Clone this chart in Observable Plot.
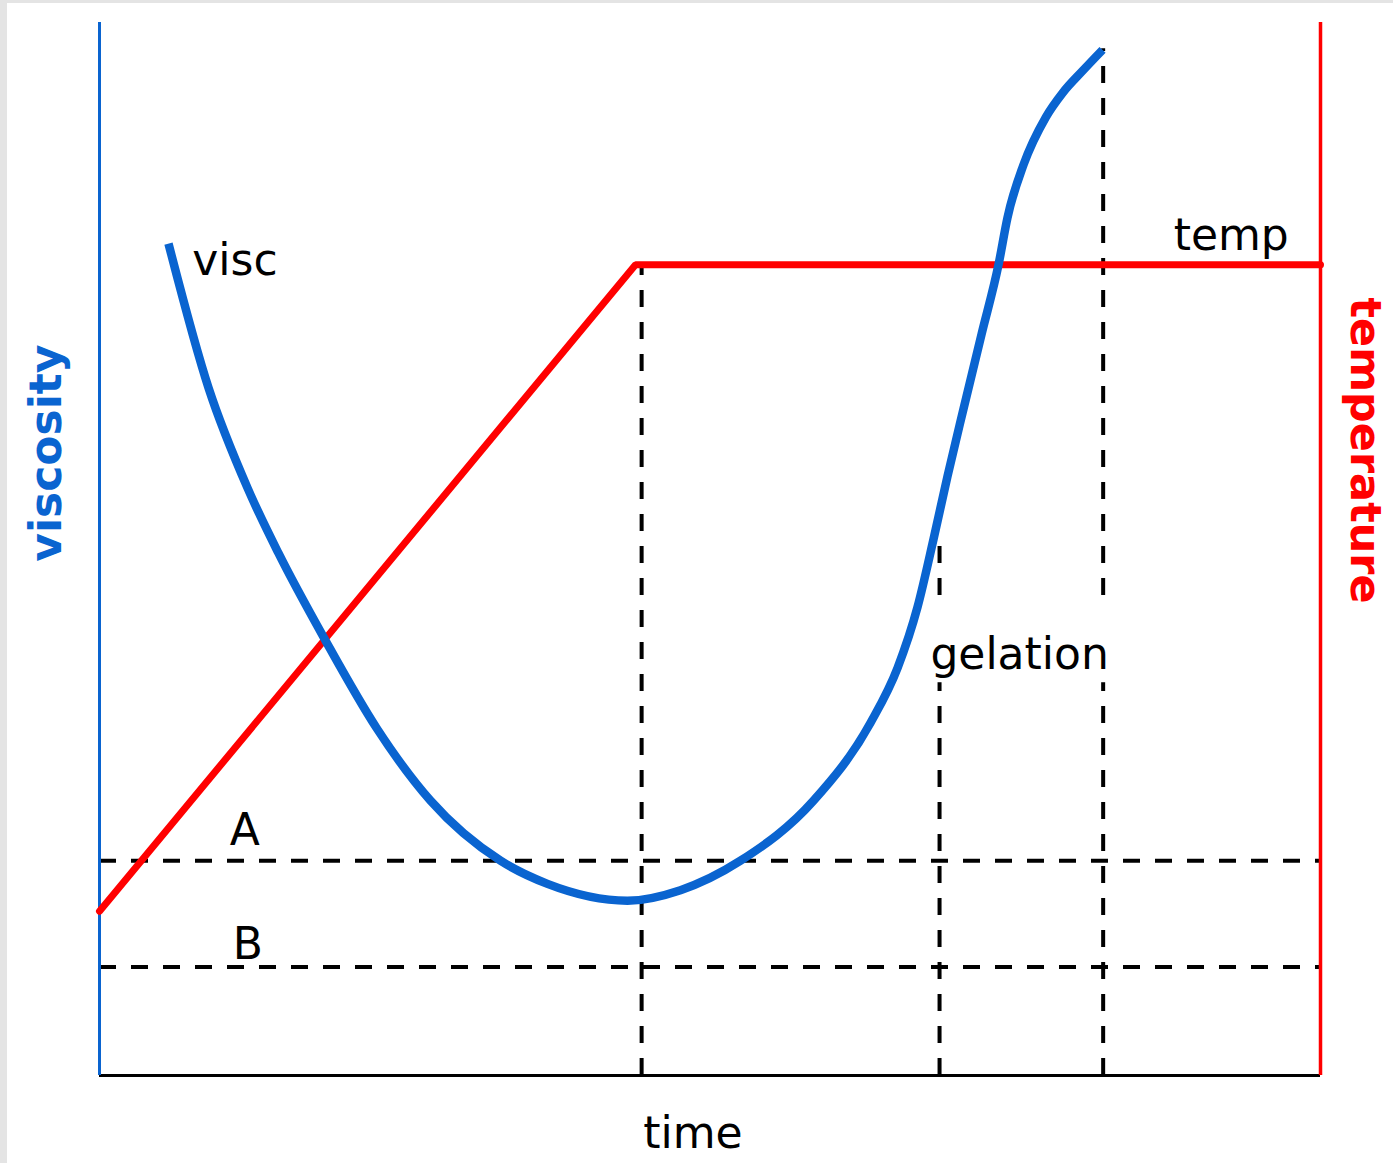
<!DOCTYPE html>
<html>
<head>
<meta charset="utf-8">
<script src="https://cdn.jsdelivr.net/npm/d3@7"></script>
<script src="https://cdn.jsdelivr.net/npm/@observablehq/plot@0.6"></script>
<style>
  html, body { margin: 0; padding: 0; background: #fff; }
  #chart { position: relative; width: 1393px; height: 1163px; overflow: hidden; }
  .edge-left { position: absolute; left: 0; top: 0; width: 7px; height: 1163px; background: #e4e4e4; }
  .edge-top { position: absolute; left: 0; top: 0; width: 1393px; height: 3px; background: #e4e4e4; }
</style>
</head>
<body>
<div id="chart"></div>
<script>
// ---- data (time 0..100, value 0..100) ----
const tempTime = [0, 43.9, 100];
const tempValue = [15.6, 77.0, 77.0];

const viscTime = [5.65, 8.93, 12.12, 14.66, 18.51, 22.69, 27.11, 32.84, 36.69, 43.24, 47.58, 52.5, 58.48, 63.15, 65.36, 67.0, 68.3, 69.45, 70.76, 72.24, 73.63, 74.37, 75.68, 77.5, 78.87, 80.51, 82.15];
const viscValue = [79.0, 65.3, 55.8, 49.6, 41.3, 33.0, 26.1, 20.4, 18.2, 16.6, 17.6, 20.4, 26.1, 33.5, 38.7, 44.5, 50.9, 56.9, 63.3, 70.4, 77.0, 81.5, 86.5, 91.0, 93.3, 95.4, 97.4];

const levelNames = ["A", "B"];
const levelValues = [20.4, 10.3];

const eventTimes = [44.4, 68.8, 82.2];
const eventTops = [77.0, 50.8, 97.5];

const BLUE = "#0a64d0";
const RED = "#ff0000";

const temp = tempTime.map((t, i) => ({t, v: tempValue[i]}));
const visc = viscTime.map((t, i) => ({t, v: viscValue[i]}));
const levels = levelNames.map((name, i) => ({name, v: levelValues[i]}));
const events = eventTimes.map((t, i) => ({t, top: eventTops[i]}));

const plot = Plot.plot({
  width: 1393,
  height: 1163,
  marginLeft: 99,
  marginRight: 73,
  marginTop: 22,
  marginBottom: 88,
  x: {domain: [0, 100], axis: null},
  y: {domain: [0, 100], axis: null},
  style: {fontFamily: "'DejaVu Sans', Verdana, sans-serif", background: "transparent"},
  marks: [
    // dashed reference levels
    Plot.ruleY(levels, {y: "v", x1: 0, x2: 100, stroke: "black", strokeWidth: 4, strokeDasharray: "17,15"}),
    Plot.ruleX(events, {x: "t", y1: 0, y2: "top", stroke: "black", strokeWidth: 4, strokeDasharray: "17,15"}),
    // label background for "gelation"
    Plot.rect([{x1: 67.8, x2: 83.6, y1: 37.3, y2: 44.2}], {x1: "x1", x2: "x2", y1: "y1", y2: "y2", fill: "white"}),
    // frame
    Plot.ruleY([0], {x1: 0, x2: 100, stroke: "black", strokeWidth: 3}),
    Plot.ruleX([0], {y1: 0, y2: 100, stroke: BLUE, strokeWidth: 3}),
    Plot.ruleX([100], {y1: 0, y2: 100, stroke: RED, strokeWidth: 3.5}),
    // series
    Plot.line(temp, {x: "t", y: "v", stroke: RED, strokeWidth: 7, strokeLinejoin: "miter"}),
    Plot.line(visc, {x: "t", y: "v", stroke: BLUE, strokeWidth: 8.5, curve: "monotone-x", strokeLinecap: "butt"}),
    // labels
    Plot.text(["visc"], {x: 7.6, y: 76.0, text: d => d, textAnchor: "start", lineAnchor: "bottom", fontSize: 44, fill: "black"}),
    Plot.text(["temp"], {x: 97.4, y: 78.35, text: d => d, textAnchor: "end", lineAnchor: "bottom", fontSize: 44, fill: "black"}),
    Plot.text(levels, {x: [11.9, 12.15], y: [21.85, 11.1], text: "name", textAnchor: "middle", lineAnchor: "bottom", fontSize: 44, fill: "black"}),
    Plot.text(["gelation"], {x: 68.05, y: 38.65, text: d => d, textAnchor: "start", lineAnchor: "bottom", fontSize: 44, fill: "black"}),
    Plot.text(["time"], {x: 48.6, y: -6.84, text: d => d, textAnchor: "middle", lineAnchor: "bottom", fontSize: 44, fill: "black"}),
    Plot.text(["viscosity"], {x: -4.3, y: 59.1, text: d => d, rotate: -90, textAnchor: "middle", lineAnchor: "middle", fontSize: 44, fontWeight: "bold", fill: BLUE}),
    Plot.text(["temperature"], {x: 103.65, y: 59.35, text: d => d, rotate: 90, textAnchor: "middle", lineAnchor: "middle", fontSize: 43, fontWeight: "bold", fill: RED})
  ]
});

const chart = document.getElementById("chart");
chart.appendChild(plot);
const l = document.createElement("div"); l.className = "edge-left"; chart.appendChild(l);
const t = document.createElement("div"); t.className = "edge-top"; chart.appendChild(t);
</script>
</body>
</html>
